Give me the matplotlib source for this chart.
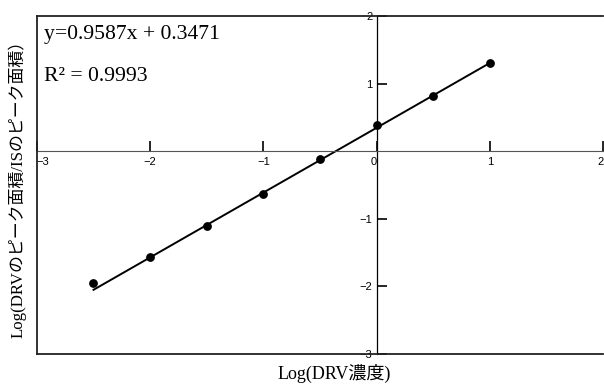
import matplotlib.pyplot as plt

# log concentration vs log peak-area ratio
log_conc = [-2.5, -2.0, -1.5, -1.0, -0.5, 0.0, 0.5, 1.0]
log_ratio = [-1.95, -1.57, -1.11, -0.64, -0.11, 0.39, 0.81, 1.31]
slope = 0.9587
intercept = 0.3471
r2 = 0.9993

xticks = [-3, -2, -1, 0, 1, 2]
yticks = [-3, -2, -1, 1, 2]

serif_jp = ['Liberation Serif', 'Noto Sans CJK JP']
tick_font = ['Liberation Sans', 'DejaVu Sans']

fig = plt.figure(figsize=(6.04, 3.87), dpi=100)
ax = fig.add_axes([0.061, 0.085, 0.938, 0.874])
ax.set_xlim(-3, 2)
ax.set_ylim(-3, 2)

# axes crossing at the origin
ax.spines['left'].set_position('zero')
ax.spines['bottom'].set_position('zero')
ax.spines['left'].set_linewidth(0.9)
ax.spines['bottom'].set_linewidth(0.8)
ax.spines['bottom'].set_color('#555555')
ax.spines['top'].set_visible(False)
ax.spines['right'].set_visible(False)

# outer frame: left, top and bottom edges
for xy in ([(0, 0), (0, 1)], [(0, 1), (1, 1)], [(0, 0), (1, 0)]):
    ax.plot(*zip(*xy), transform=ax.transAxes, color='#222222', lw=1.3,
            clip_on=False, zorder=5)

ax.set_xticks(xticks)
ax.set_yticks(yticks)
ax.tick_params(axis='both', direction='in', length=7, width=1.2, colors='black',
               labelsize=8)
ax.tick_params(axis='x', pad=4)
ax.tick_params(axis='y', pad=3)
for lab in ax.get_xticklabels() + ax.get_yticklabels():
    lab.set_family(tick_font)
xlabels = ax.get_xticklabels()
xlabels[0].set_horizontalalignment('left')
xlabels[xticks.index(0)].set_horizontalalignment('right')
xlabels[-1].set_horizontalalignment('right')

# regression line and data points
xs = [log_conc[0], log_conc[-1]]
ax.plot(xs, [slope * x + intercept for x in xs], color='black', lw=1.4)
ax.scatter(log_conc, log_ratio, s=28, color='black', zorder=4)

ax.text(0.012, 0.945, 'y=%.4fx + %.4f' % (slope, intercept), transform=ax.transAxes,
        fontsize=15.6, family=serif_jp, va='center', ha='left')
ax.text(0.012, 0.822, 'R² = %.4f' % r2, transform=ax.transAxes,
        fontsize=15.6, family=serif_jp, va='center', ha='left')

fig.text(0.553, 0.035, 'Log(DRV濃度)', fontsize=13, family=serif_jp,
         ha='center', va='center')
fig.text(0.028, 0.522, 'Log(DRVのピーク面積/ISのピーク面積）', fontsize=12.2,
         family=serif_jp, rotation=90, ha='center', va='center')

fig.savefig('out.png', dpi=100)
